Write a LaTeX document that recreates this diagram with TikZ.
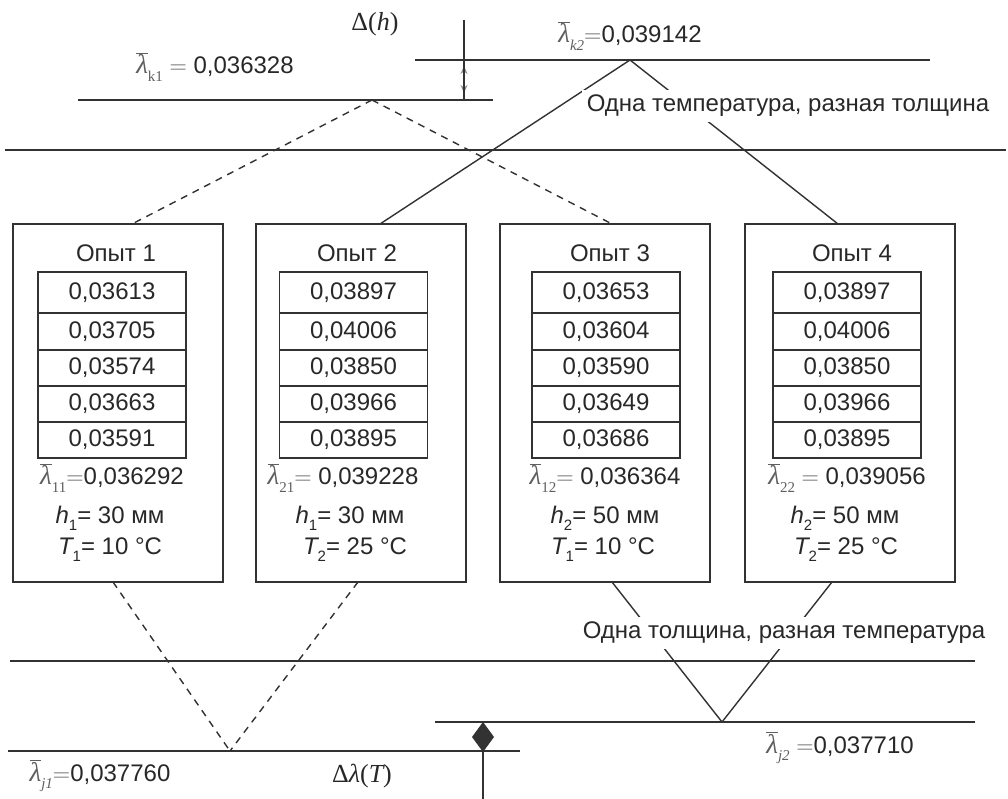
\RequirePackage{fix-cm}
\documentclass[tikz,border=0pt]{standalone}
\usepackage{fontspec}
\setmainfont{Liberation Sans}
\newfontfamily\serf{Liberation Serif}
\usetikzlibrary{arrows.meta}
\definecolor{lc}{RGB}{50,50,50}
\definecolor{tc}{RGB}{40,40,40}
\definecolor{lamc}{RGB}{95,95,95}
\definecolor{ac}{RGB}{140,140,140}
\newcommand\lamb[1]{\textcolor{lamc}{$\overline{\hbox{\fontsize{27}{27}\serf\itshape λ}}$\raisebox{-0.32em}{\fontsize{15}{15}\selectfont\serf #1}}}
\newcommand\seq{\textcolor{lamc}{$=$}}
\newcommand\subs[1]{\raisebox{-0.3em}{\fontsize{15}{15}\selectfont #1}}
\begin{document}
\begin{tikzpicture}[x=1pt,y=-1pt,
  every node/.style={text=tc, font=\fontsize{24}{28}\selectfont, inner sep=0pt},
  ln/.style={draw=lc, line width=1.8pt},
  diag/.style={draw=lc, line width=1.4pt},
  dsh/.style={draw=lc, line width=1.4pt, dash pattern=on 7pt off 6pt},
  opbox/.style={draw=lc, line width=1.8pt, minimum width=210pt, minimum height=358pt},
  cell/.style={draw=lc, line width=1.3pt, minimum width=148pt},
  lbl/.style={fill=white, inner sep=5pt}]
\useasboundingbox[fill=white] (0,0) rectangle (1008,799);

% horizontal lines
\coordinate (k2L) at (415,60);  \coordinate (k2R) at (930,60);
\coordinate (k1L) at (78,100);  \coordinate (k1R) at (493,100);
\coordinate (tL) at (5,150);    \coordinate (tR) at (1006,150);
\coordinate (mL) at (10,661);   \coordinate (mR) at (975,661);
\coordinate (j2L) at (435,722); \coordinate (j2R) at (975,722);
\coordinate (j1L) at (8,751);   \coordinate (j1R) at (520,751);
\draw[ln] (k2L) -- (k2R);
\draw[ln] (k1L) -- (k1R);
\draw[ln] (tL) -- (tR);
\draw[ln] (mL) -- (mR);
\draw[ln] (j2L) -- (j2R);
\draw[ln] (j1L) -- (j1R);

% boxes
\node[opbox] (b1) at (118,403) {};
\node[opbox] (b2) at (361,403) {};
\node[opbox] (b3) at (605,403) {};
\node[opbox] (b4) at (850,403) {};

% tables
\node[cell, minimum height=41pt] (a1) at (112,292.5) {0,03613};
\node[cell, minimum height=37pt] (a2) at (112,331.5) {0,03705};
\node[cell, minimum height=36pt] (a3) at (112,368) {0,03574};
\node[cell, minimum height=36pt] (a4) at (112,404) {0,03663};
\node[cell, minimum height=36pt] (a5) at (112,440) {0,03591};

\node[cell, minimum height=41pt] (c1) at (353.5,292.5) {0,03897};
\node[cell, minimum height=37pt] (c2) at (353.5,331.5) {0,04006};
\node[cell, minimum height=36pt] (c3) at (353.5,368) {0,03850};
\node[cell, minimum height=36pt] (c4) at (353.5,404) {0,03966};
\node[cell, minimum height=36pt] (c5) at (353.5,440) {0,03895};

\node[cell, minimum height=41pt] (d1) at (606,292.5) {0,03653};
\node[cell, minimum height=37pt] (d2) at (606,331.5) {0,03604};
\node[cell, minimum height=36pt] (d3) at (606,368) {0,03590};
\node[cell, minimum height=36pt] (d4) at (606,404) {0,03649};
\node[cell, minimum height=36pt] (d5) at (606,440) {0,03686};

\node[cell, minimum height=41pt] (f1) at (847,292.5) {0,03897};
\node[cell, minimum height=37pt] (f2) at (847,331.5) {0,04006};
\node[cell, minimum height=36pt] (f3) at (847,368) {0,03850};
\node[cell, minimum height=36pt] (f4) at (847,404) {0,03966};
\node[cell, minimum height=36pt] (f5) at (847,440) {0,03895};

% box texts
\node (o1) at (116,253) {Опыт 1};
\node (o2) at (357,253) {Опыт 2};
\node (o3) at (610,253) {Опыт 3};
\node (o4) at (852,253) {Опыт 4};

\node (m1) at (112,478) {\lamb{11}\seq0,036292};
\node (m2) at (343,478) {\lamb{21}\seq\ 0,039228};
\node (m3) at (605,478) {\lamb{12}\seq\ 0,036364};
\node (m4) at (847,478) {\lamb{22} \seq\ 0,039056};

\node (h1) at (110,518) {{\itshape h}\subs{1}= 30 мм};
\node (h2) at (350,518) {{\itshape h}\subs{1}= 30 мм};
\node (h3) at (605,518) {{\itshape h}\subs{2}= 50 мм};
\node (h4) at (845,518) {{\itshape h}\subs{2}= 50 мм};

\node (T1) at (110,550) {{\itshape T}\subs{1}= 10 °C};
\node (T2) at (355,550) {{\itshape T}\subs{2}= 25 °C};
\node (T3) at (603,550) {{\itshape T}\subs{1}= 10 °C};
\node (T4) at (846,550) {{\itshape T}\subs{2}= 25 °C};

% connectors top
\coordinate (k2a) at (630,60);
\coordinate (e2t) at (380,224);
\coordinate (e4t) at (838,224);
\draw[diag] (k2a) -- (e2t);
\draw[diag] (k2a) -- (e4t);
\coordinate (k1a) at (372,100);
\coordinate (e1t) at (132,224);
\coordinate (e3t) at (612,224);
\draw[dsh] (k1a) -- (e1t);
\draw[dsh] (k1a) -- (e3t);

% connectors bottom
\coordinate (j1a) at (230,751);
\coordinate (e1b) at (113,582);
\coordinate (e2b) at (358,582);
\draw[dsh] (e1b) -- (j1a);
\draw[dsh] (e2b) -- (j1a);
\coordinate (j2a) at (722,722);
\coordinate (e3b) at (612,582);
\coordinate (e4b) at (832,582);
\draw[diag] (e3b) -- (j2a);
\draw[diag] (e4b) -- (j2a);

% delta(h) marker
\coordinate (vt1) at (464,20);
\coordinate (vt2) at (464,100);
\coordinate (am) at (464,79.5);
\coordinate (au) at (464,66);
\coordinate (ad) at (464,93);
\draw[draw=ac, line width=1pt, -{Stealth[length=8pt,width=7pt]}] (am) -- (au);
\draw[draw=ac, line width=1pt, -{Stealth[length=8pt,width=7pt]}] (am) -- (ad);
\draw[ln] (vt1) -- (vt2);

% delta lambda(T) marker
\coordinate (dt) at (483,722);
\coordinate (dr) at (494,737);
\coordinate (db) at (483,752);
\coordinate (dl) at (472,737);
\coordinate (vb) at (483,799);
\fill[lc] (dt) -- (dr) -- (db) -- (dl) -- cycle;
\draw[ln] (dt) -- (vb);

% labels
\node (dh) at (375,24) {\fontsize{26}{28}\serf Δ({\itshape h})};
\node (lk1) at (215,67) {\lamb{k1} \seq\ 0,036328};
\node (lk2) at (630,36) {\lamb{\itshape k2}\seq0,039142};
\node[lbl] (sameT) at (788,106) {Одна температура, разная толщина};
\node[lbl] (sameH) at (784,633) {Одна толщина, разная температура};
\node (lj2) at (840,748) {\lamb{\itshape j2} \seq0,037710};
\node (lj1) at (100,776) {\lamb{\itshape j1}\seq0,037760};
\node (dlT) at (362,776) {\fontsize{26}{28}\serf Δ{\itshape λ}({\itshape T})};
\end{tikzpicture}
\end{document}
